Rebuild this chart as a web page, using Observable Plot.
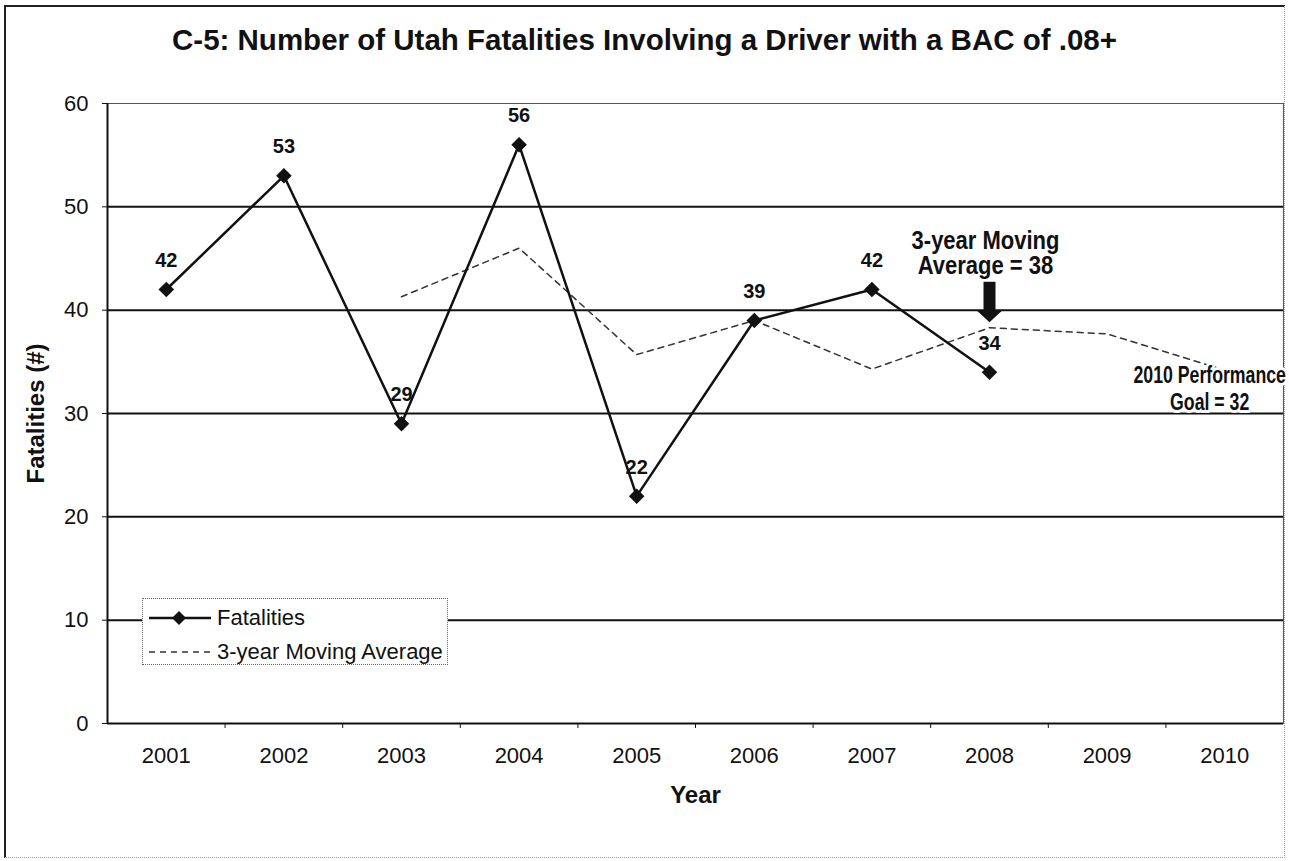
<!DOCTYPE html>
<html>
<head>
<meta charset="utf-8">
<script src="https://cdn.jsdelivr.net/npm/d3@7"></script>
<script src="https://cdn.jsdelivr.net/npm/@observablehq/plot@0.6"></script>
<style>
  body { margin: 0; background: #fff; }
  #wrap { position: relative; width: 1289px; height: 861px; overflow: hidden; font-family: "Liberation Sans", Arial, sans-serif; color: #111; }
  #frame { position: absolute; left: 4px; top: 5px; width: 1281px; height: 853px; box-sizing: border-box;
           border-left: 2px solid #222; border-top: 2px solid #222; border-right: 1px dotted #999; border-bottom: 1px dotted #999; }
  #title { position: absolute; left: 0; top: 24px; width: 1289px; text-align: center; font-weight: bold; font-size: 29.5px; line-height: 32px; }
  #chart { position: absolute; left: 0; top: 80px; }
  #legend { position: absolute; left: 142px; top: 598px; width: 306px; height: 67px; box-sizing: border-box;
            border: 1px dotted #666; background: #fff; font-size: 22px; }
  .row { position: absolute; left: 0; height: 30px; width: 300px; }
  .row svg { position: absolute; left: 5px; top: 0; }
  .row span { position: absolute; left: 74px; top: 3px; line-height: 24px; white-space: nowrap; }
</style>
</head>
<body>
<div id="wrap">
  <div id="frame"></div>
  <div id="title"></div>
  <div id="chart"></div>
  <div id="legend"></div>
</div>
<script>
// ---- data ----
const years = [2001, 2002, 2003, 2004, 2005, 2006, 2007, 2008, 2009, 2010];
const fatalYears = [2001, 2002, 2003, 2004, 2005, 2006, 2007, 2008];
const fatalities = [42, 53, 29, 56, 22, 39, 42, 34];
const maYears = [2003, 2004, 2005, 2006, 2007, 2008, 2009, 2010];
const movingAvg = [41.3, 46.0, 35.7, 39.0, 34.3, 38.3, 37.7, 34.2];
const yTicks = [0, 10, 20, 30, 40, 50, 60];
const titleText = "C-5: Number of Utah Fatalities Involving a Driver with a BAC of .08+";
const seriesNames = ["Fatalities", "3-year Moving Average"];
const xLabel = "Year";
const yLabel = "Fatalities (#)";
const annotMA = "3-year Moving\nAverage = 38";
const annotGoal = "2010 Performance\nGoal = 32";

// ---- derived tables ----
const fat = fatalYears.map((year, i) => ({year, value: fatalities[i]}));
const ma = maYears.map((year, i) => ({year, value: movingAvg[i]}));
const bandEdges = d3.range(years[0] + 0.5, years[years.length - 1], 1);

const arrowYear = 2008;
const arrowHeadSymbol = {
  draw(ctx) { ctx.moveTo(-13, -6); ctx.lineTo(13, -6); ctx.lineTo(0, 6); ctx.closePath(); }
};

document.getElementById("title").textContent = titleText;

const chart = Plot.plot({
  width: 1289,
  height: 781,
  marginLeft: 107,
  marginRight: 6,
  marginTop: 23,
  marginBottom: 138,
  style: { fontFamily: "'Liberation Sans', Arial, sans-serif", color: "#111", background: "transparent" },
  x: { type: "linear", domain: [years[0] - 0.5, years[years.length - 1] + 0.5], label: null },
  y: { domain: [yTicks[0], yTicks[yTicks.length - 1]], label: null },
  marks: [
    Plot.frame({ stroke: "#555", strokeWidth: 1 }),
    Plot.ruleY(yTicks.filter(v => v > 0 && v < 60), { stroke: "#111", strokeWidth: 2 }),
    Plot.ruleY([0], { stroke: "#111", strokeWidth: 2 }),
    Plot.ruleX([years[0] - 0.5], { stroke: "#111", strokeWidth: 2 }),
    Plot.axisY({ ticks: yTicks, tickSize: 5, tickPadding: 14, fontSize: 22, tickFormat: d => String(d), label: null }),
    Plot.axisX({ ticks: years, tickSize: 0, tickPadding: 24, fontSize: 22, tickFormat: d => String(d), label: null }),
    Plot.axisX({ ticks: bandEdges, tickSize: 5, tickFormat: () => "", label: null }),
    Plot.line(ma, { x: "year", y: "value", stroke: "#333", strokeWidth: 1.5, strokeDasharray: "6,5" }),
    Plot.line(fat, { x: "year", y: "value", stroke: "#111", strokeWidth: 2.5 }),
    Plot.dot(fat, { x: "year", y: "value", symbol: "diamond2", r: 7, fill: "#111", stroke: "none" }),
    Plot.text(fat, { x: "year", y: "value", text: d => String(d.value), dy: -29, fontSize: 20, fontWeight: "bold", fill: "#111" }),
    // annotation arrow
    Plot.ruleX([arrowYear], { y1: 42.7, y2: 39.9, stroke: "#111", strokeWidth: 12 }),
    Plot.dot([arrowYear], { x: d => d, y: 39.4, symbol: arrowHeadSymbol, fill: "#111", stroke: "none" }),
    Plot.text([annotMA], { x: 2008, y: 45.5, dx: -4, text: d => d, fontSize: 25, fontWeight: "bold", lineHeight: 1.0, fill: "#111" }),
    Plot.text([annotGoal], { x: 2010, y: 32.5, dx: -15, text: d => d, fontSize: 23, fontWeight: "bold", lineHeight: 1.2, fill: "#111", stroke: "white", strokeWidth: 6 }),
    // axis titles
    Plot.text([yLabel], { frameAnchor: "left", dx: -71, rotate: -90, textAnchor: "middle", lineAnchor: "middle", text: d => d, fontSize: 24, fontWeight: "bold", fill: "#111" }),
    Plot.text([xLabel], { frameAnchor: "bottom", dy: 72, textAnchor: "middle", lineAnchor: "middle", text: d => d, fontSize: 24, fontWeight: "bold", fill: "#111" })
  ]
});
document.getElementById("chart").appendChild(chart);

// condense the annotation texts (narrow bold face as in the original)
d3.select(chart).selectAll("text").each(function () {
  const t = this.textContent;
  let s = null;
  if (t.includes("Moving")) s = 0.88;
  else if (t.includes("Goal")) s = 0.77;
  if (s) {
    const tr = this.getAttribute("transform") || "";
    this.setAttribute("transform", tr + ` scale(${s},1)`);
  }
});

// ---- legend ----
const legend = d3.select("#legend");
const r1 = legend.append("div").attr("class", "row").style("top", "4px");
const s1 = r1.append("svg").attr("width", 64).attr("height", 30);
s1.append("line").attr("x1", 1).attr("x2", 63).attr("y1", 15).attr("y2", 15).attr("stroke", "#111").attr("stroke-width", 2.5);
s1.append("path").attr("d", "M31,8L38,15L31,22L24,15Z").attr("fill", "#111");
r1.append("span").text(seriesNames[0]);
const r2 = legend.append("div").attr("class", "row").style("top", "38px");
const s2 = r2.append("svg").attr("width", 64).attr("height", 30);
s2.append("line").attr("x1", 1).attr("x2", 63).attr("y1", 15).attr("y2", 15).attr("stroke", "#333").attr("stroke-width", 1.5).attr("stroke-dasharray", "6,5");
r2.append("span").text(seriesNames[1]);
</script>
</body>
</html>
